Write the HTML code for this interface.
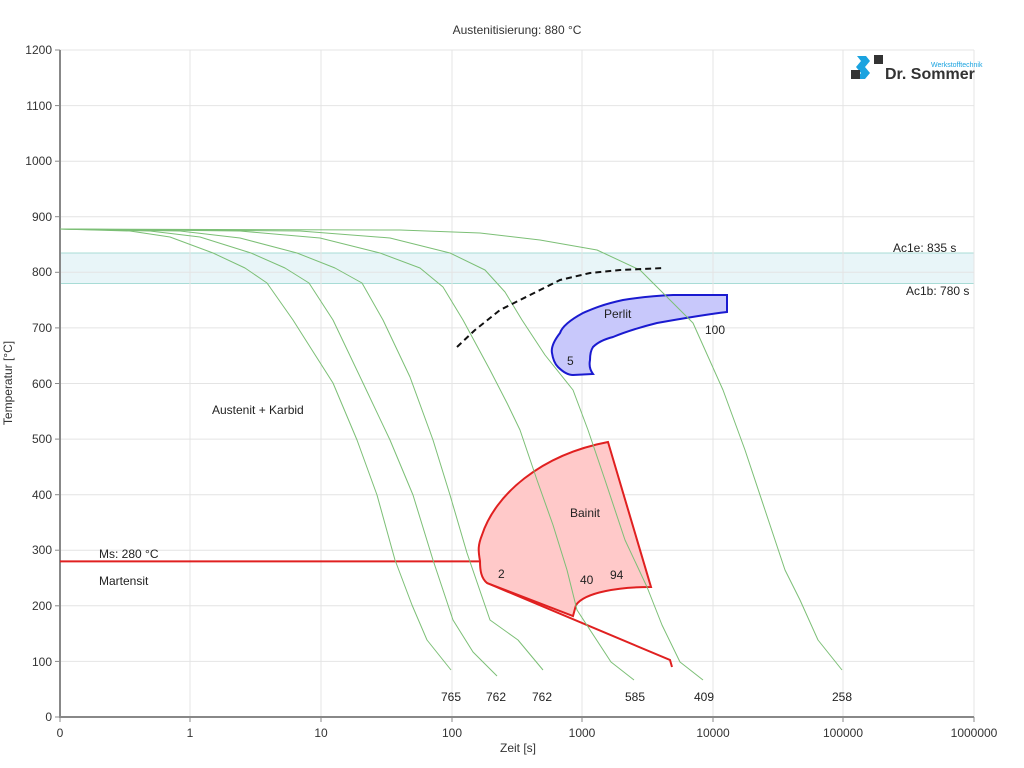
<!DOCTYPE html>
<html><head><meta charset="utf-8"><style>
html,body{margin:0;padding:0;background:#fff;}
svg{display:block;font-family:"Liberation Sans",sans-serif;}
</style></head><body>
<svg width="1024" height="768" viewBox="0 0 1024 768" xmlns="http://www.w3.org/2000/svg">
<rect width="1024" height="768" fill="#fff"/>
<rect x="60" y="253" width="914" height="30.5" fill="#e8f5f8"/>
<line x1="60" y1="253" x2="974" y2="253" stroke="#a8dcd6" stroke-width="1"/>
<line x1="60" y1="283.5" x2="974" y2="283.5" stroke="#a8dcd6" stroke-width="1"/>
<g stroke="#e4e4e4" stroke-width="1">
<line x1="60" y1="50" x2="974" y2="50"/><line x1="60" y1="105.6" x2="974" y2="105.6"/>
<line x1="60" y1="161.2" x2="974" y2="161.2"/><line x1="60" y1="216.7" x2="974" y2="216.7"/>
<line x1="60" y1="272.3" x2="974" y2="272.3"/><line x1="60" y1="327.9" x2="974" y2="327.9"/>
<line x1="60" y1="383.5" x2="974" y2="383.5"/><line x1="60" y1="439.1" x2="974" y2="439.1"/>
<line x1="60" y1="494.7" x2="974" y2="494.7"/><line x1="60" y1="550.2" x2="974" y2="550.2"/>
<line x1="60" y1="605.8" x2="974" y2="605.8"/><line x1="60" y1="661.4" x2="974" y2="661.4"/>
<line x1="190" y1="50" x2="190" y2="717"/><line x1="321" y1="50" x2="321" y2="717"/>
<line x1="452" y1="50" x2="452" y2="717"/><line x1="582" y1="50" x2="582" y2="717"/>
<line x1="713" y1="50" x2="713" y2="717"/><line x1="843" y1="50" x2="843" y2="717"/>
<line x1="974" y1="50" x2="974" y2="717"/>
</g>
<line x1="60" y1="50" x2="60" y2="718" stroke="#888" stroke-width="2"/>
<line x1="59" y1="717" x2="974" y2="717" stroke="#888" stroke-width="2"/>
<g stroke="#888" stroke-width="1">
<line x1="55" y1="717" x2="60" y2="717"/><line x1="55" y1="661.4" x2="60" y2="661.4"/><line x1="55" y1="605.8" x2="60" y2="605.8"/><line x1="55" y1="550.2" x2="60" y2="550.2"/><line x1="55" y1="494.7" x2="60" y2="494.7"/><line x1="55" y1="439.1" x2="60" y2="439.1"/><line x1="55" y1="383.5" x2="60" y2="383.5"/><line x1="55" y1="327.9" x2="60" y2="327.9"/><line x1="55" y1="272.3" x2="60" y2="272.3"/><line x1="55" y1="216.7" x2="60" y2="216.7"/><line x1="55" y1="161.2" x2="60" y2="161.2"/><line x1="55" y1="105.6" x2="60" y2="105.6"/><line x1="55" y1="50" x2="60" y2="50"/>
<line x1="60" y1="717" x2="60" y2="722"/><line x1="190" y1="717" x2="190" y2="722"/><line x1="321" y1="717" x2="321" y2="722"/><line x1="452" y1="717" x2="452" y2="722"/><line x1="582" y1="717" x2="582" y2="722"/><line x1="713" y1="717" x2="713" y2="722"/><line x1="843" y1="717" x2="843" y2="722"/><line x1="974" y1="717" x2="974" y2="722"/>
</g>
<g font-size="12" fill="#333" text-anchor="end">
<text x="52" y="721">0</text><text x="52" y="666">100</text><text x="52" y="610">200</text><text x="52" y="554">300</text><text x="52" y="499">400</text><text x="52" y="443">500</text><text x="52" y="388">600</text><text x="52" y="332">700</text><text x="52" y="276">800</text><text x="52" y="221">900</text><text x="52" y="165">1000</text><text x="52" y="110">1100</text><text x="52" y="54">1200</text>
</g>
<g font-size="12" fill="#333" text-anchor="middle">
<text x="60" y="737">0</text><text x="190" y="737">1</text><text x="321" y="737">10</text><text x="452" y="737">100</text><text x="582" y="737">1000</text><text x="713" y="737">10000</text><text x="843" y="737">100000</text><text x="974" y="737">1000000</text>
<text x="518" y="752">Zeit [s]</text>
<text x="517" y="34">Austenitisierung: 880 °C</text>
</g>
<text x="12" y="383" font-size="12" fill="#333" text-anchor="middle" transform="rotate(-90 12 383)">Temperatur [°C]</text>
<path d="M480,561 C478,550 478,545 482,535 C495,495 540,455 608,442 L651,587 C620,587 585,592 576,605 L573,616 L487,583 C481,578 480,570 480,561 Z" fill="#ffc9c9" stroke="#e02020" stroke-width="2"/>
<polyline points="487,583 670,660 672,667" fill="none" stroke="#e02020" stroke-width="2"/>
<line x1="60" y1="561.4" x2="480" y2="561.4" stroke="#e02020" stroke-width="2"/>
<path d="M727,295 L673,295 C650,296 635,298 623,300 C600,305 590,310 583,313 C570,320 562,327 560,333 C553,342 551,348 552,353 C553,360 555,364 558,367 C563,372 568,375 573,375 L593,374 C590,370 589,365 590,360 C590,355 591,350 593,347 C598,342 605,339 613,337 C630,330 645,326 657,323 C685,318 710,314 727,312 Z" fill="#c8c8fb" stroke="#1a1ad0" stroke-width="2"/>
<g fill="none" stroke="#7cbf76" stroke-width="1" stroke-linejoin="round">
<polyline points="60,229 130,231 170,237 213,253 245,268 267,283 293,320 312,350 333,383 357,440 377,495 395,560 412,605 427,640 451,670"/>
<polyline points="60,229 150,231 200,237 251,253 285,268 309,283 333,320 363,383 390,440 413,495 433,560 453,620 473,652 497,676"/>
<polyline points="60,229 180,231 240,238 297,253 335,268 362,283 383,320 410,377 433,440 450,495 467,553 490,620 518,640 543,670"/>
<polyline points="60,229 240,231 320,238 380,253 420,268 443,287 463,320 490,370 507,403 520,430 537,480 553,525 567,570 577,610 611,662 634,680"/>
<polyline points="60,229 300,231 390,238 450,253 485,270 505,292 522,320 545,355 573,390 588,430 605,480 625,540 647,587 662,625 680,662 703,680"/>
<polyline points="60,229 400,230 480,233 540,240 597,250 640,270 670,300 693,323 723,390 745,450 765,510 785,570 800,600 818,640 842,670"/>
</g>
<polyline points="457,347 475,330 500,310 530,295 560,280 590,273 620,270 665,268" fill="none" stroke="#111" stroke-width="2" stroke-dasharray="6,4"/>
<g font-size="12" fill="#222">
<text x="893" y="252">Ac1e: 835 s</text>
<text x="906" y="295">Ac1b: 780 s</text>
<text x="604" y="318">Perlit</text>
<text x="705" y="334">100</text>
<text x="567" y="365">5</text>
<text x="212" y="414">Austenit + Karbid</text>
<text x="570" y="517">Bainit</text>
<text x="498" y="578">2</text>
<text x="580" y="584">40</text>
<text x="610" y="579">94</text>
<text x="99" y="558">Ms: 280 °C</text>
<text x="99" y="585">Martensit</text>
<text x="441" y="701">765</text><text x="486" y="701">762</text><text x="532" y="701">762</text><text x="625" y="701">585</text><text x="694" y="701">409</text><text x="832" y="701">258</text>
</g>
<path d="M857,56 L866,56 L870,61 L865,67 L870,73 L865,79 L856,79 L861,73 L856,67 L861,61 Z" fill="#1aa3e0"/>
<rect x="874" y="55" width="9" height="9" fill="#333"/>
<rect x="851" y="70" width="9" height="9" fill="#333"/>
<text x="885" y="79" font-size="16" font-weight="bold" fill="#333">Dr. Sommer</text>
<text x="931" y="67" font-size="7" fill="#1aa3e0">Werkstofftechnik</text>
</svg>
</body></html>
